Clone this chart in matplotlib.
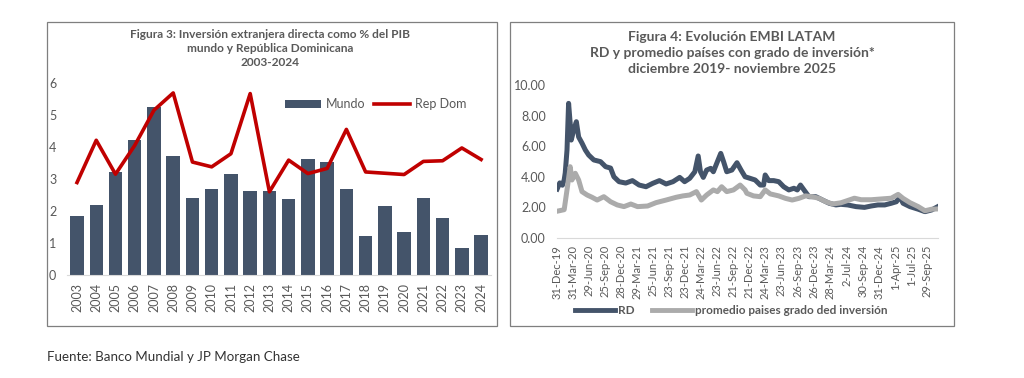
import matplotlib
matplotlib.use('Agg')
import matplotlib.pyplot as plt
from matplotlib.patches import Rectangle
from matplotlib.lines import Line2D
from matplotlib.patches import Patch
import numpy as np
import pandas as pd

plt.rcParams['font.family'] = ['Lato', 'DejaVu Sans']

# ── Figura 3: IED como % del PIB ───────────────────────────────────────────
years = ['2003', '2004', '2005', '2006', '2007', '2008', '2009', '2010', '2011', '2012', '2013',
         '2014', '2015', '2016', '2017', '2018', '2019', '2020', '2021', '2022', '2023', '2024']
mundo = [1.84, 2.20, 3.23, 4.21, 5.25, 3.71, 2.42, 2.70, 3.16, 2.64, 2.62,
         2.39, 3.61, 3.52, 2.70, 1.23, 2.17, 1.35, 2.42, 1.78, 0.83, 1.26]
rep_dom = [2.89, 4.21, 3.15, 4.05, 5.15, 5.69, 3.53, 3.38, 3.79, 5.67, 2.60,
           3.59, 3.17, 3.33, 4.55, 3.22, 3.18, 3.14, 3.55, 3.57, 3.97, 3.61]

# ── Figura 4: EMBI LATAM ───────────────────────────────────────────────────
rd_dates = ['2019-12-31', '2020-01-15', '2020-01-30', '2020-02-09', '2020-02-15', '2020-02-25',
            '2020-03-05', '2020-03-14', '2020-03-20', '2020-04-03', '2020-04-18', '2020-05-01',
            '2020-05-20', '2020-06-08', '2020-06-27', '2020-07-26', '2020-09-02', '2020-10-01',
            '2020-10-29', '2020-11-17', '2020-12-16', '2021-01-23', '2021-03-02', '2021-04-09',
            '2021-05-18', '2021-06-25', '2021-08-02', '2021-09-09', '2021-10-18', '2021-11-25',
            '2021-12-23', '2022-01-21', '2022-02-19', '2022-03-10', '2022-03-23', '2022-04-08',
            '2022-04-27', '2022-05-20', '2022-06-04', '2022-06-27', '2022-07-16', '2022-08-01',
            '2022-08-19', '2022-09-17', '2022-10-16', '2022-11-08', '2022-12-01', '2022-12-29',
            '2023-01-27', '2023-02-25', '2023-03-16', '2023-03-25', '2023-04-14', '2023-05-12',
            '2023-06-10', '2023-07-08', '2023-08-06', '2023-09-04', '2023-09-23', '2023-10-11',
            '2023-10-31', '2023-11-28', '2024-01-06', '2024-02-13', '2024-03-22', '2024-04-29',
            '2024-05-27', '2024-07-05', '2024-08-21', '2024-10-08', '2024-11-15', '2024-12-23',
            '2025-01-31', '2025-03-09', '2025-04-07', '2025-04-26', '2025-05-15', '2025-06-23',
            '2025-08-09', '2025-09-16', '2025-10-24', '2025-11-28']
rd_vals = [3.20, 3.60, 3.45, 3.80, 4.25, 5.75,
           8.80, 7.50, 6.40, 7.06, 7.60, 6.60,
           6.20, 5.75, 5.42, 5.10, 4.99, 4.66,
           4.57, 4.00, 3.68, 3.59, 3.75, 3.46,
           3.35, 3.57, 3.75, 3.53, 3.68, 3.96,
           3.68, 3.90, 4.33, 5.36, 4.33, 3.96,
           4.44, 4.55, 4.33, 4.99, 5.53, 4.99,
           4.33, 4.44, 4.92, 4.44, 4.00, 3.90,
           3.79, 3.46, 3.46, 4.12, 3.75, 3.75,
           3.68, 3.35, 3.14, 3.25, 3.14, 3.46,
           3.14, 2.70, 2.70, 2.48, 2.27, 2.16,
           2.20, 2.16, 2.05, 2.00, 2.09, 2.16,
           2.16, 2.27, 2.37, 2.70, 2.27, 2.05,
           1.88, 1.72, 1.83, 2.05]

ip_dates = ['2019-12-31', '2020-01-20', '2020-02-09', '2020-02-25', '2020-03-14', '2020-03-24',
            '2020-04-12', '2020-05-01', '2020-05-20', '2020-06-18', '2020-07-16', '2020-08-14',
            '2020-09-21', '2020-10-29', '2020-12-06', '2021-01-13', '2021-02-21', '2021-03-31',
            '2021-05-27', '2021-07-14', '2021-09-09', '2021-11-05', '2021-12-13', '2022-01-21',
            '2022-02-28', '2022-03-28', '2022-04-27', '2022-06-04', '2022-06-27', '2022-07-21',
            '2022-08-19', '2022-09-26', '2022-11-03', '2022-12-01', '2022-12-11', '2023-01-18',
            '2023-02-25', '2023-03-25', '2023-04-23', '2023-06-10', '2023-07-18', '2023-08-25',
            '2023-10-02', '2023-11-09', '2023-12-17', '2024-01-25', '2024-03-03', '2024-04-10',
            '2024-05-27', '2024-07-05', '2024-08-12', '2024-09-19', '2024-11-15', '2025-01-11',
            '2025-03-09', '2025-04-17', '2025-05-15', '2025-06-23', '2025-08-09', '2025-09-16',
            '2025-10-24', '2025-11-28']
ip_vals = [1.75, 1.80, 1.85, 3.14, 4.66, 3.79,
           4.23, 3.79, 3.03, 2.81, 2.66, 2.48,
           2.70, 2.37, 2.16, 2.05, 2.22, 2.05,
           2.09, 2.31, 2.48, 2.66, 2.75, 2.81,
           3.03, 2.48, 2.81, 3.14, 3.03, 3.35,
           3.03, 3.14, 3.46, 3.14, 2.92, 2.75,
           2.70, 3.14, 2.88, 2.75, 2.59, 2.48,
           2.59, 2.75, 2.70, 2.59, 2.37, 2.22,
           2.30, 2.45, 2.60, 2.50, 2.50, 2.55,
           2.60, 2.85, 2.59, 2.31, 2.05, 1.78,
           1.88, 1.90]

date_ticks = ['31-Dec-19', '31-Mar-20', '29-Jun-20', '25-Sep-20', '28-Dec-20', '29-Mar-21',
              '25-Jun-21', '23-Sep-21', '23-Dec-21', '24-Mar-22', '23-Jun-22', '21-Sep-22',
              '21-Dec-22', '24-Mar-23', '23-Jun-23', '26-Sep-23', '26-Dec-23', '28-Mar-24',
              '2-Jul-24', '30-Sep-24', '31-Dec-24', '1-Apr-25', '1-Jul-25', '29-Sep-25']

# ── estilos ────────────────────────────────────────────────────────────────
NAVY = '#44546A'
RED = '#C00000'
GREY_LINE = '#ABABAB'
TXT = '#595959'
BORDER = '#7F7F7F'
AXLINE = '#D9D9D9'

fig = plt.figure(figsize=(10.24, 3.78), dpi=100)
fig.patch.set_facecolor('white')

# marcos de los dos cuadros
fig.add_artist(Rectangle((0.0459, 0.1376), 0.4395, 0.8042, transform=fig.transFigure,
                         fill=False, edgecolor=BORDER, lw=0.9))
fig.add_artist(Rectangle((0.4980, 0.1376), 0.4336, 0.8042, transform=fig.transFigure,
                         fill=False, edgecolor=BORDER, lw=0.9))

# ── izquierda: barras + línea ──────────────────────────────────────────────
ax1 = fig.add_axes([0.0658, 0.2725, 0.4134, 0.5079])
x = np.arange(len(years))
ax1.bar(x, mundo, width=0.7, color=NAVY, zorder=2)
ax1.plot(x, rep_dom, color=RED, lw=2.6, zorder=3)
ax1.set_xlim(-0.5, len(years) - 0.5)
ax1.set_ylim(0, 6)
ax1.set_yticks(range(0, 7))
ax1.set_xticks(x)
ax1.set_xticklabels(years, rotation=90)
for s in ['top', 'right', 'left']:
    ax1.spines[s].set_visible(False)
ax1.spines['bottom'].set_color(AXLINE)
ax1.tick_params(length=0, labelsize=9, colors=TXT)
ax1.tick_params(axis='y', pad=8)
ax1.tick_params(axis='x', pad=6)

h1 = [Patch(facecolor=NAVY), Line2D([0], [0], color=RED, lw=2.6)]
leg1 = fig.legend(h1, ['Mundo', 'Rep Dom'], loc='center', bbox_to_anchor=(0.367, 0.725),
                  ncol=2, frameon=False, fontsize=9, handlelength=2.9, handleheight=0.6,
                  handletextpad=0.4, columnspacing=0.7)
for t in leg1.get_texts():
    t.set_color(TXT)

fig.text(0.2637, 0.871,
         'Figura 3: Inversión extranjera directa como % del PIB\n'
         'mundo y República Dominicana\n2003-2024',
         ha='center', va='center', fontsize=8.6, fontweight='bold', color=TXT, linespacing=1.35)

# ── derecha: EMBI ──────────────────────────────────────────────────────────
ax2 = fig.add_axes([0.5439, 0.3704, 0.3721, 0.4048])
ax2.plot(pd.to_datetime(rd_dates), rd_vals, color=NAVY, lw=3.6, zorder=2)
ax2.plot(pd.to_datetime(ip_dates), ip_vals, color=GREY_LINE, lw=3.6, zorder=3)
ax2.set_xlim(pd.Timestamp('2019-12-30'), pd.Timestamp('2025-11-29'))
ax2.set_ylim(0, 10)
ax2.set_yticks(np.arange(0, 11, 2))
ax2.set_yticklabels([f'{v:.2f}' for v in np.arange(0, 11, 2)])
ax2.set_xticks(pd.to_datetime(date_ticks, format='%d-%b-%y'))
ax2.set_xticklabels(date_ticks, rotation=90)
for s in ['top', 'right', 'left']:
    ax2.spines[s].set_visible(False)
ax2.spines['bottom'].set_color(AXLINE)
ax2.tick_params(length=0, colors=TXT)
ax2.tick_params(axis='y', labelsize=9, pad=8)
ax2.tick_params(axis='x', labelsize=8, pad=5)

h2 = [Line2D([0], [0], color=NAVY, lw=3.5), Line2D([0], [0], color=GREY_LINE, lw=3.5)]
leg2 = fig.legend(h2, ['RD', 'promedio paises grado ded inversión'], loc='center',
                  bbox_to_anchor=(0.714, 0.178), ncol=2, frameon=False,
                  handlelength=3.4, handletextpad=0.2, columnspacing=1.5,
                  prop={'weight': 'bold', 'size': 8.5})
for t in leg2.get_texts():
    t.set_color(TXT)

fig.text(0.7148, 0.8598,
         'Figura 4: Evolución EMBI LATAM\nRD y promedio países con grado de inversión*\n'
         'diciembre 2019- noviembre 2025',
         ha='center', va='center', fontsize=10, fontweight='bold', color=TXT, linespacing=1.4)

fig.text(0.0459, 0.0556, 'Fuente: Banco Mundial y JP Morgan Chase',
         ha='left', va='center', fontsize=9.6, color='#333333')

fig.savefig('out.png', dpi=100, facecolor='white')
